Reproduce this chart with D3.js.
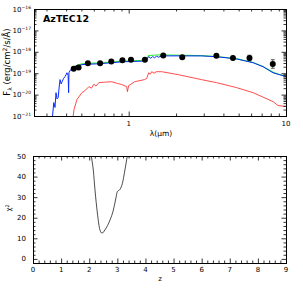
<!DOCTYPE html>
<html>
<head>
<meta charset="utf-8">
<script src="https://cdn.jsdelivr.net/npm/d3@7"></script>
<style>
body { margin: 0; background: #fff; }
svg { display: block; }
.axis path { stroke: #000; stroke-width: 1; }
.axis line { stroke: #000; stroke-width: 0.8; }
text { font-family: "DejaVu Sans", sans-serif; fill: #000; }
</style>
</head>
<body>
<div id="graph"></div>
<script>
// SED: 観測点 (波長 μm, log10 フラックス, 誤差 dex)
var obsLam = [0.447, 0.480, 0.550, 0.658, 0.775, 0.912, 1.034, 1.268, 1.658, 2.19, 3.61, 4.60, 5.86, 8.24];
var obsLogF = [-18.79, -18.73, -18.53, -18.53, -18.45, -18.40, -18.37, -18.37, -18.17, -18.25, -18.19, -18.29, -18.29, -18.57];
var obsErr = [0.04, 0.04, 0.03, 0.03, 0.03, 0.03, 0.03, 0.03, 0.04, 0.04, 0.05, 0.06, 0.13, 0.2];

// 青 (全体モデル)
var blueLam = [0.326, 0.334, 0.340, 0.345, 0.350, 0.356, 0.362, 0.366, 0.372, 0.377, 0.385, 0.394, 0.405, 0.412, 0.415, 0.417, 0.425, 0.435, 0.46, 0.504, 0.56, 0.646, 0.78, 0.903, 1.05, 1.20, 1.26, 1.30, 1.34, 1.38, 1.42, 1.46, 1.50, 1.55, 1.62, 1.8, 2.2, 2.9, 3.61, 4.83, 6.18, 7.15, 8.28, 9.0, 10];
var blueLogF = [-21.2, -20.37, -20.6, -19.91, -20.2, -20.14, -19.6, -19.30, -19.5, -19.40, -19.25, -19.16, -18.98, -19.1, -19.91, -18.98, -18.86, -18.79, -18.68, -18.60, -18.58, -18.56, -18.51, -18.47, -18.45, -18.44, -18.42, -18.35, -18.23, -18.30, -18.22, -18.28, -18.21, -18.25, -18.19, -18.19, -18.19, -18.19, -18.23, -18.33, -18.51, -18.70, -18.98, -19.06, -19.16];

// 緑 (もう一つのモデル)
var greenLam = [0.435, 0.46, 0.504, 0.56, 0.646, 0.78, 0.903, 1.05, 1.20, 1.30, 1.34, 1.42, 1.50, 1.62, 1.8, 2.2, 2.9, 3.61, 4.83, 6.18, 7.15, 8.28, 9.0, 10];
var greenLogF = [-18.76, -18.65, -18.56, -18.54, -18.52, -18.48, -18.44, -18.42, -18.40, -18.34, -18.18, -18.16, -18.15, -18.14, -18.15, -18.17, -18.18, -18.22, -18.32, -18.50, -18.69, -18.96, -19.05, -19.15];

// 赤 (恒星成分)
var redLam = [0.440, 0.449, 0.469, 0.504, 0.53, 0.558, 0.58, 0.60, 0.62, 0.646, 0.70, 0.78, 0.85, 0.903, 0.971, 0.981, 1.0, 1.09, 1.26, 1.30, 1.34, 1.37, 1.40, 1.45, 1.50, 1.62, 2.07, 2.9, 3.61, 4.83, 6.18, 8.28, 8.9, 10];
var redLogF = [-21.2, -20.70, -20.23, -19.91, -19.80, -19.63, -19.70, -19.52, -19.60, -19.44, -19.42, -19.40, -19.48, -19.53, -19.63, -19.86, -19.58, -19.40, -19.30, -19.25, -18.98, -19.05, -18.93, -19.00, -18.93, -18.93, -19.07, -19.30, -19.44, -19.67, -19.91, -20.33, -20.51, -20.56];

// χ² vs z
var chiZ = [2.04, 2.08, 2.145, 2.205, 2.29, 2.38, 2.455, 2.56, 2.74, 2.86, 2.95, 3.0, 3.095, 3.18, 3.27, 3.33, 3.39];
var chiVal = [55, 49.7, 43.2, 33.5, 22.3, 14.1, 12.5, 14.1, 18.9, 23.8, 29.6, 32.7, 33.8, 36.7, 43.2, 48.1, 53];

var sedYTicks = [-16, -17, -18, -19, -20, -21];
var zTicks = [0, 1, 2, 3, 4, 5, 6, 7, 8, 9];
var chiTicks = [0, 10, 20, 30, 40, 50];

var width = 303, height = 296;
var sedBox = { left: 34, right: 286, top: 9, bottom: 116 };
var chiBox = { left: 33, right: 286, top: 156, bottom: 263 };

var svg = d3.select("#graph").append("svg").attr("width", width).attr("height", height);

//--- 上段 SED ---
var xSed = d3.scaleLog().domain([0.25, 10]).range([sedBox.left, sedBox.right]);
var ySed = d3.scaleLinear().domain([-21, -16]).range([sedBox.bottom, sedBox.top]);

svg.append("clipPath").attr("id", "clipTop").append("rect")
  .attr("x", sedBox.left).attr("y", sedBox.top)
  .attr("width", sedBox.right - sedBox.left).attr("height", sedBox.bottom - sedBox.top);

var sedLayer = svg.append("g").attr("clip-path", "url(#clipTop)");

var line = d3.line().x(function(d) { return xSed(d[0]); }).y(function(d) { return ySed(d[1]); });

sedLayer.append("path").datum(d3.zip(greenLam, greenLogF))
  .attr("d", line).attr("fill", "none").attr("stroke", "#33ee33").attr("stroke-width", 1.2);
sedLayer.append("path").datum(d3.zip(blueLam, blueLogF))
  .attr("d", line).attr("fill", "none").attr("stroke", "#0a2cff").attr("stroke-width", 1);
sedLayer.append("path").datum(d3.zip(redLam, redLogF))
  .attr("d", line).attr("fill", "none").attr("stroke", "#ff2020").attr("stroke-width", 0.8);

var obs = obsLam.map(function(l, i) { return { l: l, f: obsLogF[i], e: obsErr[i] }; });
sedLayer.selectAll(".err").data(obs).enter().append("line")
  .attr("x1", function(d) { return xSed(d.l); }).attr("x2", function(d) { return xSed(d.l); })
  .attr("y1", function(d) { return ySed(d.f - d.e); }).attr("y2", function(d) { return ySed(d.f + d.e); })
  .attr("stroke", "#333").attr("stroke-width", 0.8);
sedLayer.selectAll(".errcap").data(obs.filter(function(d) { return d.e > 0.1; })).enter().append("path")
  .attr("d", function(d) {
    var x = xSed(d.l);
    return "M" + (x - 2) + "," + ySed(d.f - d.e) + "H" + (x + 2) + "M" + (x - 2) + "," + ySed(d.f + d.e) + "H" + (x + 2);
  })
  .attr("stroke", "#333").attr("stroke-width", 0.8);
sedLayer.selectAll(".pt").data(obs).enter().append("circle")
  .attr("cx", function(d) { return xSed(d.l); }).attr("cy", function(d) { return ySed(d.f); })
  .attr("r", 3).attr("fill", "#000");

// 目盛 (内向き、四辺)
var lamMinor = [0.3, 0.4, 0.5, 0.6, 0.7, 0.8, 0.9, 2, 3, 4, 5, 6, 7, 8, 9];
var lamMajor = [1, 10];
var yMinor = [];
sedYTicks.forEach(function(t) {
  for (var k = 2; k <= 9; k++) { if (t + Math.log10(k) < -16) yMinor.push(t + Math.log10(k)); }
});

function frame(g, xs, ys, xMaj, xMin, yMaj, yMin, b) {
  g.append("g").attr("class", "axis").attr("transform", "translate(0," + b.bottom + ")")
    .call(d3.axisBottom(xs).tickValues(xMaj).tickSize(-4.5).tickFormat(""));
  g.append("g").attr("class", "axis").attr("transform", "translate(0," + b.bottom + ")")
    .call(d3.axisBottom(xs).tickValues(xMin).tickSize(-2.5).tickFormat(""));
  g.append("g").attr("class", "axis").attr("transform", "translate(0," + b.top + ")")
    .call(d3.axisTop(xs).tickValues(xMaj).tickSize(-4.5).tickFormat(""));
  g.append("g").attr("class", "axis").attr("transform", "translate(0," + b.top + ")")
    .call(d3.axisTop(xs).tickValues(xMin).tickSize(-2.5).tickFormat(""));
  g.append("g").attr("class", "axis").attr("transform", "translate(" + b.left + ",0)")
    .call(d3.axisLeft(ys).tickValues(yMaj).tickSize(-4.5).tickFormat(""));
  g.append("g").attr("class", "axis").attr("transform", "translate(" + b.left + ",0)")
    .call(d3.axisLeft(ys).tickValues(yMin).tickSize(-2.5).tickFormat(""));
  g.append("g").attr("class", "axis").attr("transform", "translate(" + b.right + ",0)")
    .call(d3.axisRight(ys).tickValues(yMaj).tickSize(-4.5).tickFormat(""));
  g.append("g").attr("class", "axis").attr("transform", "translate(" + b.right + ",0)")
    .call(d3.axisRight(ys).tickValues(yMin).tickSize(-2.5).tickFormat(""));
  g.selectAll(".axis path").attr("stroke-width", 1.2);
}

var axisTop = svg.append("g");
frame(axisTop, xSed, ySed, lamMajor, lamMinor, sedYTicks, yMinor, sedBox);

// y目盛ラベル 10^n
sedYTicks.forEach(function(t) {
  var tx = axisTop.append("text").attr("x", 31).attr("y", ySed(t) + 2.5)
    .attr("text-anchor", "end").attr("font-size", 7);
  tx.append("tspan").text("10");
  tx.append("tspan").attr("dy", -3).attr("font-size", 4.5).text("\u2212" + (-t));
});
lamMajor.forEach(function(t) {
  axisTop.append("text").attr("x", xSed(t)).attr("y", 126)
    .attr("text-anchor", "middle").attr("font-size", 7).text(t);
});
axisTop.append("text").attr("x", 161).attr("y", 136).attr("text-anchor", "middle")
  .attr("font-size", 7.5).text("\u03bb(\u03bcm)");

var yl = axisTop.append("text").attr("transform", "translate(10,62) rotate(-90)")
  .attr("text-anchor", "middle").attr("font-size", 8.5);
yl.append("tspan").text("F");
yl.append("tspan").attr("dy", 1.5).attr("font-size", 6).text("\u03bb");
yl.append("tspan").attr("dy", -1.5).text(" (erg/cm");
yl.append("tspan").attr("dy", -3).attr("font-size", 6).text("2");
yl.append("tspan").attr("dy", 3).text("/s/\u00c5)");

axisTop.append("text").attr("x", 43).attr("y", 22).attr("font-size", 9.5)
  .attr("font-weight", "bold").text("AzTEC12");

//--- 下段 χ² ---
var xZ = d3.scaleLinear().domain([0, 9]).range([chiBox.left, chiBox.right]);
var yChi = d3.scaleLinear().domain([-2, 50]).range([chiBox.bottom, chiBox.top]);

svg.append("clipPath").attr("id", "clipBot").append("rect")
  .attr("x", chiBox.left).attr("y", chiBox.top)
  .attr("width", chiBox.right - chiBox.left).attr("height", chiBox.bottom - chiBox.top);

svg.append("g").attr("clip-path", "url(#clipBot)").append("path")
  .datum(d3.zip(chiZ, chiVal))
  .attr("d", d3.line().x(function(d) { return xZ(d[0]); }).y(function(d) { return yChi(d[1]); }).curve(d3.curveMonotoneX))
  .attr("fill", "none").attr("stroke", "#000").attr("stroke-width", 0.7);

var zMinor = d3.range(0, 9.01, 0.2).filter(function(v) { return Math.abs(v - Math.round(v)) > 0.01; });
var chiMinor = d3.range(-2, 50.01, 2).filter(function(v) { return v % 10 !== 0; });

var axisBot = svg.append("g");
frame(axisBot, xZ, yChi, zTicks, zMinor, chiTicks, chiMinor, chiBox);

zTicks.forEach(function(t) {
  axisBot.append("text").attr("x", xZ(t)).attr("y", 272)
    .attr("text-anchor", "middle").attr("font-size", 7).text(t);
});
chiTicks.forEach(function(t) {
  axisBot.append("text").attr("x", 26).attr("y", yChi(t) + 2.5)
    .attr("text-anchor", "end").attr("font-size", 7).text(t);
});
axisBot.append("text").attr("x", 160).attr("y", 281).attr("text-anchor", "middle")
  .attr("font-size", 7).text("z");
var cl = axisBot.append("text").attr("transform", "translate(11,208) rotate(-90)")
  .attr("text-anchor", "middle").attr("font-size", 7);
cl.append("tspan").text("\u03c7");
cl.append("tspan").attr("dy", -2.5).attr("font-size", 5).text("2");
</script>
</body>
</html>
